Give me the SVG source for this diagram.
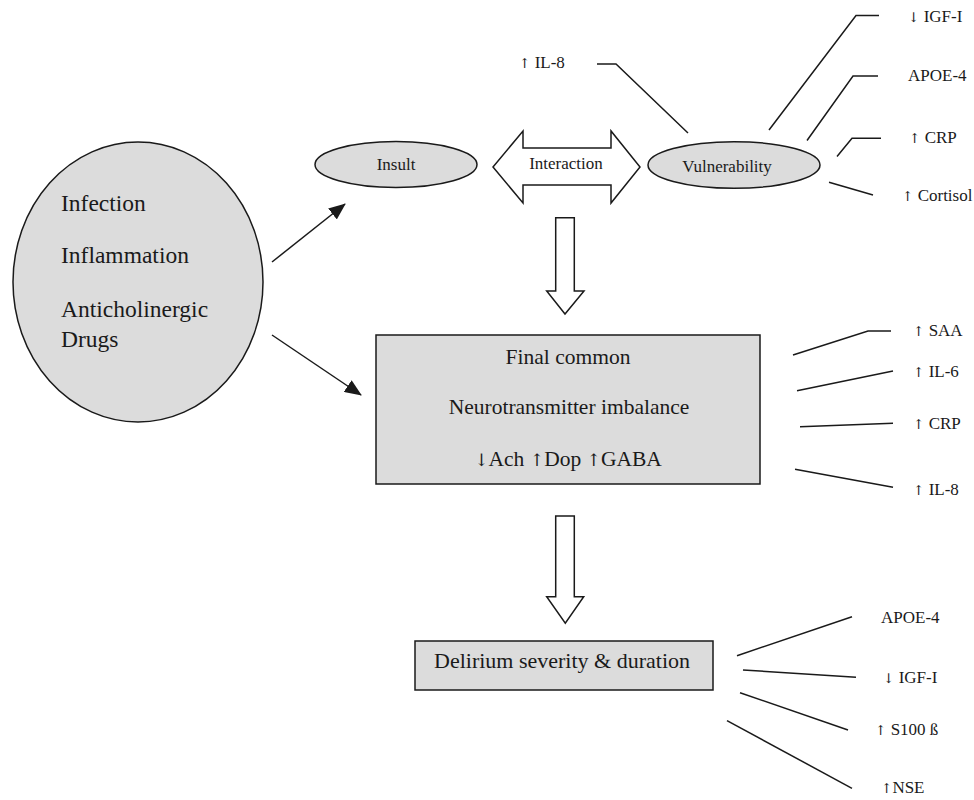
<svg xmlns="http://www.w3.org/2000/svg" width="974" height="800" viewBox="0 0 974 800">
<defs>
<marker id="ah" markerUnits="userSpaceOnUse" markerWidth="18" markerHeight="14" refX="16" refY="7" orient="auto">
<path d="M0,0 L17,7 L0,14 Z" fill="#1a1a1a"/>
</marker>
</defs>
<style>
text{font-family:"Liberation Serif","Times New Roman",serif;fill:#1a1a1a}
.ar{font-family:"DejaVu Serif","DejaVu Sans",serif;font-size:0.8em;fill:#1a1a1a}
.shape{fill:#dcdcdc;stroke:#1a1a1a;stroke-width:1.5}
.hollow{fill:#ffffff;stroke:#1a1a1a;stroke-width:1.5;stroke-linejoin:miter}
.ln{fill:none;stroke:#1a1a1a;stroke-width:1.5}
.lbl{font-size:17px}
.big{font-size:23.5px}
.mid{font-size:21.5px}
.sm{font-size:17px}
</style>
<rect width="974" height="800" fill="#ffffff"/>

<g id="causes">
<ellipse class="shape" cx="138" cy="282" rx="125" ry="140"/>
<text class="big" x="61" y="211">Infection</text>
<text class="big" x="61" y="263">Inflammation</text>
<text class="big" x="61" y="317">Anticholinergic</text>
<text class="big" x="61" y="347">Drugs</text>
</g>

<g id="insult">
<ellipse class="shape" cx="396" cy="164.5" rx="81" ry="23"/>
<text class="sm" x="396" y="170" text-anchor="middle">Insult</text>
</g>

<g id="interaction">
<polygon class="hollow" points="493,167 523,131 523,148 611,148 611,131 640,167 611,203 611,185 523,185 523,203"/>
<text class="sm" x="566" y="169" text-anchor="middle">Interaction</text>
</g>

<g id="vulnerability">
<ellipse class="shape" cx="734" cy="165" rx="86" ry="23.3"/>
<text class="sm" x="727" y="171.5" text-anchor="middle">Vulnerability</text>
</g>

<g id="final-common">
<rect class="shape" x="376" y="335" width="384" height="149"/>
<text class="mid" x="568" y="364" text-anchor="middle">Final common</text>
<text class="mid" x="569" y="414" text-anchor="middle">Neurotransmitter imbalance</text>
<text class="mid" x="568" y="466" text-anchor="middle"><tspan class="ar">↓</tspan>Ach <tspan class="ar">↑</tspan>Dop <tspan class="ar">↑</tspan>GABA</text>
</g>

<g id="delirium">
<rect class="shape" x="415" y="641" width="298" height="49"/>
<text class="mid" x="562" y="668" text-anchor="middle" style="font-size:22px">Delirium severity &amp; duration</text>
</g>

<g id="labels-vulnerability">
<text class="lbl" x="519" y="68"><tspan class="ar">↑</tspan> IL-8</text>
<text class="lbl" x="908" y="22"><tspan class="ar">↓</tspan> IGF-I</text>
<text class="lbl" x="908" y="81">APOE-4</text>
<text class="lbl" x="909" y="143"><tspan class="ar">↑</tspan> CRP</text>
<text class="lbl" x="902" y="201"><tspan class="ar">↑</tspan> Cortisol</text>
</g>

<g id="labels-final-common">
<text class="lbl" x="913" y="336"><tspan class="ar">↑</tspan> SAA</text>
<text class="lbl" x="913" y="377"><tspan class="ar">↑</tspan> IL-6</text>
<text class="lbl" x="913" y="429"><tspan class="ar">↑</tspan> CRP</text>
<text class="lbl" x="913" y="495"><tspan class="ar">↑</tspan> IL-8</text>
</g>

<g id="labels-delirium">
<text class="lbl" x="881" y="623">APOE-4</text>
<text class="lbl" x="883" y="683"><tspan class="ar">↓</tspan> IGF-I</text>
<text class="lbl" x="875" y="735"><tspan class="ar">↑</tspan> S100 ß</text>
<text class="lbl" x="881" y="793"><tspan class="ar">↑</tspan>NSE</text>
</g>

<g id="connectors">
<line class="ln" x1="272" y1="262" x2="345" y2="204" marker-end="url(#ah)"/>
<line class="ln" x1="272" y1="335" x2="361" y2="395" marker-end="url(#ah)"/>
<polygon class="hollow" points="555.7,217.7 574.3,217.7 574.3,291 584,291 565,314 546.7,291 555.7,291"/>
<polygon class="hollow" points="555.7,516 574.3,516 574.3,596.7 583.7,596.7 565.3,623.3 546.7,596.7 555.7,596.7"/>
<polyline class="ln" points="688,133 616,64 597,64"/>
<polyline class="ln" points="769,130 856,15.5 879,15.5"/>
<polyline class="ln" points="807,140.5 853,76 878,76"/>
<polyline class="ln" points="837,156.5 852,138.3 881,138.3"/>
<line class="ln" x1="829" y1="182.3" x2="873" y2="195"/>
<polyline class="ln" points="793,355 868,331 891,331"/>
<line class="ln" x1="797" y1="390.7" x2="893" y2="371"/>
<line class="ln" x1="800" y1="426.7" x2="893" y2="423.3"/>
<line class="ln" x1="795" y1="469.3" x2="893" y2="487.3"/>
<line class="ln" x1="737" y1="655.7" x2="852" y2="616.7"/>
<line class="ln" x1="743" y1="670" x2="856" y2="677.3"/>
<line class="ln" x1="740" y1="692.7" x2="848" y2="730"/>
<line class="ln" x1="727" y1="720.7" x2="852" y2="788.3"/>
</g>
</svg>
